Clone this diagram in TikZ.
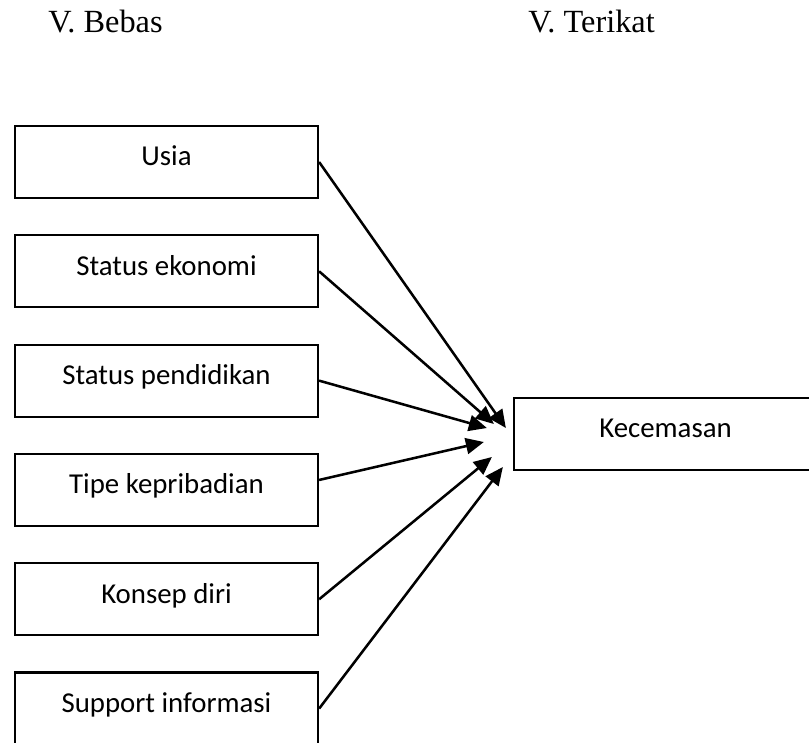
\documentclass[tikz,border=0pt]{standalone}
\usepackage{fontspec}
\setmainfont{Liberation Serif}
\newfontfamily\kotakfont{Carlito}
\usetikzlibrary{arrows.meta}

\begin{document}
\begin{tikzpicture}[
    varbox/.style={draw, line width=1.6pt, minimum width=7.575cm, minimum height=1.8cm,
      inner sep=0pt, text height=0.45cm, text depth=0.26cm,
      font=\kotakfont\fontsize{20.5}{24}\selectfont},
    judul/.style={anchor=base west, inner sep=0pt, font=\fontsize{23}{27}\selectfont},
    panah/.style={line width=1.8pt, -{Triangle[length=0.45cm,width=0.4cm]}}
  ]
      \useasboundingbox (0,0) rectangle (20.225,-18.55);
      % judul kolom
      \node[judul] (bebas) at (1.2,-0.8) {V. Bebas};
      \node[judul] (terikat) at (13.2,-0.8) {V. Terikat};
      % variabel bebas
      \foreach \nama/\teks [count=\i from 0] in {usia/Usia, ekonomi/Status ekonomi,
        pendidikan/Status pendidikan, tipe/Tipe kepribadian, konsep/Konsep diri,
        support/Support informasi}
      \node[varbox] (\nama) at (4.1625,{-4.05-2.733*\i}) {\teks};
      % variabel terikat
      \node[varbox] (kec) at (16.6375,-10.85) {Kecemasan};
      \coordinate (t1) at ([xshift=-0.175cm,yshift=0.15cm]kec.west);
      \coordinate (t2) at ([xshift=-0.475cm,yshift=0.25cm]kec.west);
      \coordinate (t3) at ([xshift=-0.65cm,yshift=0.15cm]kec.west);
      \coordinate (t4) at ([xshift=-0.725cm,yshift=-0.2cm]kec.west);
      \coordinate (t5) at ([xshift=-0.525cm,yshift=-0.575cm]kec.west);
      \coordinate (t6) at ([xshift=-0.25cm,yshift=-0.825cm]kec.west);
      \draw[panah] (usia.east) -- (t1);
      \draw[panah] (ekonomi.east) -- (t2);
      \draw[panah] (pendidikan.east) -- (t3);
      \draw[panah] ([yshift=0.25cm]tipe.east) -- (t4);
      \draw[panah] (konsep.east) -- (t5);
      \draw[panah] (support.east) -- (t6);
\end{tikzpicture}
\end{document}
